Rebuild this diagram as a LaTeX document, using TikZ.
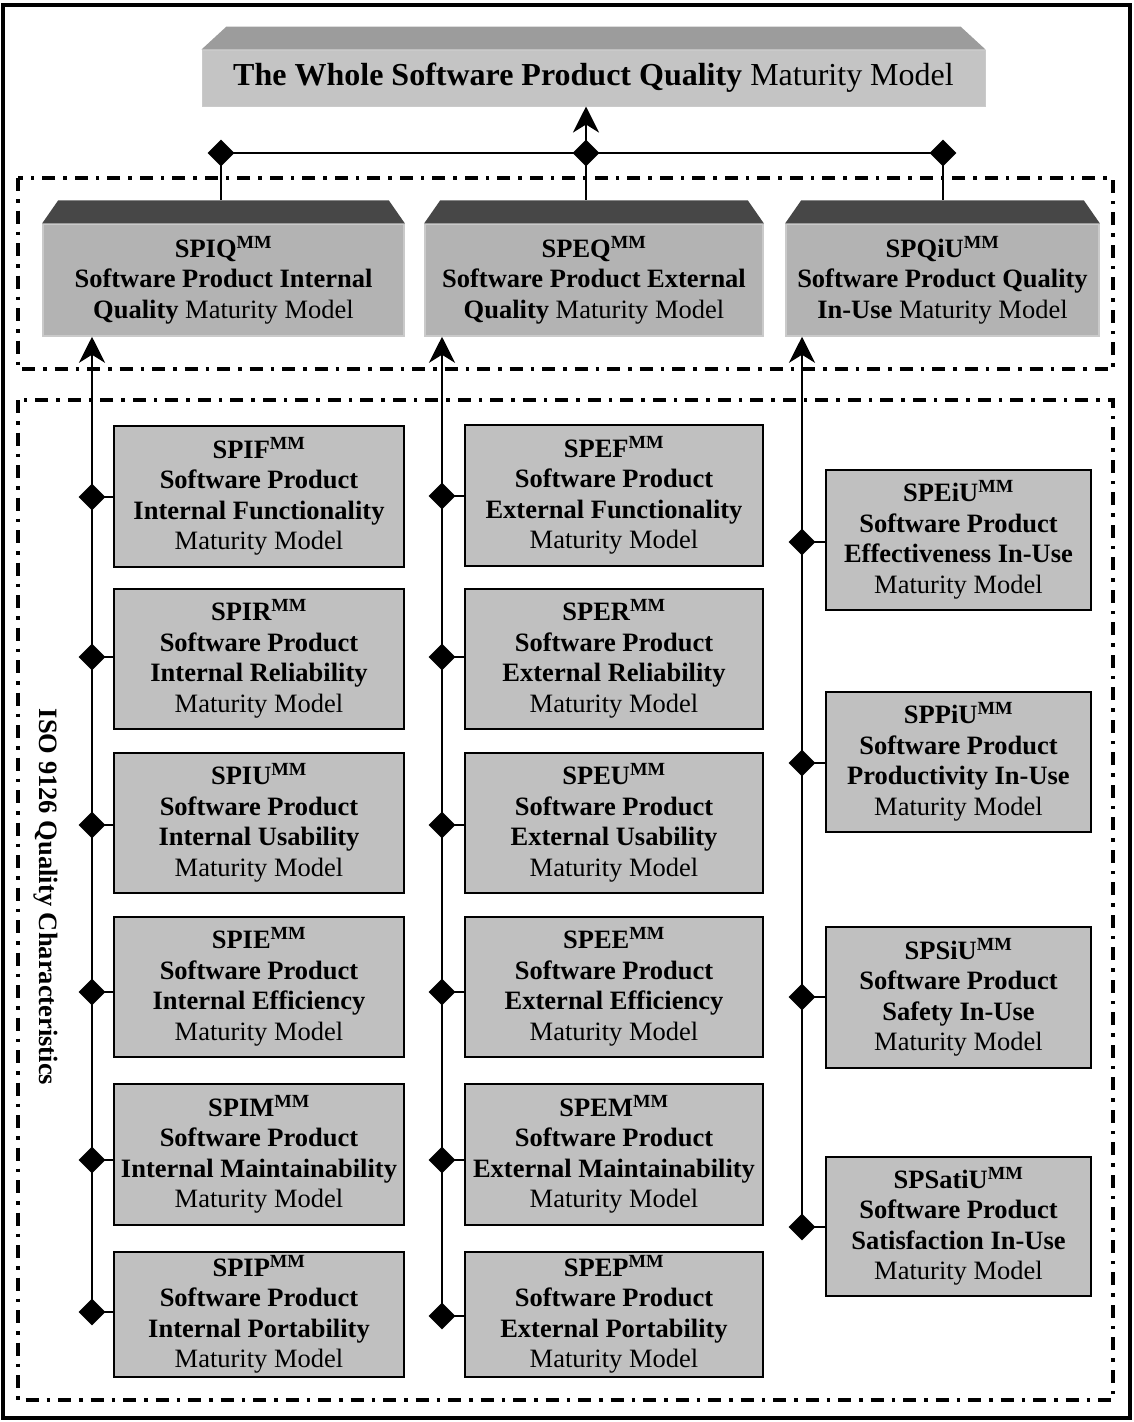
\documentclass[tikz,border=0pt]{standalone}
\usepackage{fontspec}
\setmainfont{Liberation Serif}
\usetikzlibrary{arrows.meta,shapes.geometric,calc}
\definecolor{boxgray}{HTML}{C0C0C0}
\definecolor{facegray}{HTML}{B3B3B3}
\definecolor{rimgray}{HTML}{CACACA}
\definecolor{lidgray}{HTML}{474747}
\definecolor{titleface}{HTML}{C4C4C4}
\definecolor{titlelid}{HTML}{9C9C9C}
\newcommand\mmark{\textsuperscript{MM}}
\begin{document}
\begin{tikzpicture}[x=1pt,y=-1pt,
  txt/.style={font=\fontsize{26.5}{30.5}\selectfont, align=center, inner sep=0pt},
  model/.style={txt, draw=black, line width=2.2pt, fill=boxgray},
  face/.style={txt, draw=rimgray, line width=1.5pt, fill=facegray,
    minimum height=112pt},
  dia/.style={diamond, fill=black, inner sep=0pt, minimum width=27pt, minimum height=27pt},
  link/.style={line width=2.8pt},
  arr/.style={link, -{Stealth[length=26pt,width=26pt,inset=8pt]}},
  frame/.style={line width=3.2pt, dash pattern=on 13pt off 8pt on 3.5pt off 8pt},
]
\useasboundingbox (0,0) rectangle (1133,1422);

% outer border
\draw[line width=3.2pt] (3,5) rectangle (1130,1418);

% grouping frames
\draw[frame] (18,178) rectangle (1113,369);
\draw[frame] (18,400) rectangle (1113,1400);

% top-level model
\node[txt, font=\fontsize{32}{38}\selectfont, draw=rimgray, line width=1pt, fill=titleface,
  minimum width=783pt, minimum height=56pt] (W) at (593.5,78)
  {\textbf{The Whole Software Product Quality} Maturity Model};
\fill[titlelid] (W.north west) -- ($(W.north west)+(25,-23)$) -- ($(W.north east)+(-25,-23)$) -- (W.north east) -- cycle;

% second-level models
\node[face, minimum width=361pt] (IQ) at (223.5,280)
  {\textbf{SPIQ\mmark}\\\textbf{Software Product Internal}\\\textbf{Quality} Maturity Model};
\node[face, minimum width=338pt] (EQ) at (594,280)
  {\textbf{SPEQ\mmark}\\\textbf{Software Product External}\\\textbf{Quality} Maturity Model};
\node[face, minimum width=313pt] (QiU) at (942.5,280)
  {\textbf{SPQiU\mmark}\\\textbf{Software Product Quality}\\\textbf{In-Use} Maturity Model};
\foreach \n in {IQ,EQ,QiU}{
  \fill[lidgray] (\n.north west) -- ($(\n.north west)+(16,-23)$) -- ($(\n.north east)+(-16,-23)$) -- (\n.north east) -- cycle;
  \coordinate (lid\n) at ($(\n.north)+(0,-23)$);
}

% internal characteristics
\node[model, minimum width=290pt, minimum height=141pt] (IF) at (259,496.5)
  {\textbf{SPIF\mmark}\\\textbf{Software Product}\\\textbf{Internal Functionality}\\Maturity Model};
\node[model, minimum width=290pt, minimum height=140pt] (IR) at (259,659)
  {\textbf{SPIR\mmark}\\\textbf{Software Product}\\\textbf{Internal Reliability}\\Maturity Model};
\node[model, minimum width=290pt, minimum height=140pt] (IU) at (259,823)
  {\textbf{SPIU\mmark}\\\textbf{Software Product}\\\textbf{Internal Usability}\\Maturity Model};
\node[model, minimum width=290pt, minimum height=140pt] (IE) at (259,987)
  {\textbf{SPIE\mmark}\\\textbf{Software Product}\\\textbf{Internal Efficiency}\\Maturity Model};
\node[model, minimum width=290pt, minimum height=141pt] (IM) at (259,1154.5)
  {\textbf{SPIM\mmark}\\\textbf{Software Product}\\\textbf{Internal Maintainability}\\Maturity Model};
\node[model, minimum width=290pt, minimum height=125pt] (IP) at (259,1314.5)
  {\textbf{SPIP\mmark}\\\textbf{Software Product}\\\textbf{Internal Portability}\\Maturity Model};

% external characteristics
\node[model, minimum width=298pt, minimum height=141pt] (EF) at (614,495.5)
  {\textbf{SPEF\mmark}\\\textbf{Software Product}\\\textbf{External Functionality}\\Maturity Model};
\node[model, minimum width=298pt, minimum height=140pt] (ER) at (614,659)
  {\textbf{SPER\mmark}\\\textbf{Software Product}\\\textbf{External Reliability}\\Maturity Model};
\node[model, minimum width=298pt, minimum height=140pt] (EU) at (614,823)
  {\textbf{SPEU\mmark}\\\textbf{Software Product}\\\textbf{External Usability}\\Maturity Model};
\node[model, minimum width=298pt, minimum height=140pt] (EE) at (614,987)
  {\textbf{SPEE\mmark}\\\textbf{Software Product}\\\textbf{External Efficiency}\\Maturity Model};
\node[model, minimum width=298pt, minimum height=141pt] (EM) at (614,1154.5)
  {\textbf{SPEM\mmark}\\\textbf{Software Product}\\\textbf{External Maintainability}\\Maturity Model};
\node[model, minimum width=298pt, minimum height=125pt] (EP) at (614,1314.5)
  {\textbf{SPEP\mmark}\\\textbf{Software Product}\\\textbf{External Portability}\\Maturity Model};

% in-use characteristics
\node[model, minimum width=265pt, minimum height=140pt] (EiU) at (958.5,540)
  {\textbf{SPEiU\mmark}\\\textbf{Software Product}\\\textbf{Effectiveness In-Use}\\Maturity Model};
\node[model, minimum width=265pt, minimum height=140pt] (PiU) at (958.5,762)
  {\textbf{SPPiU\mmark}\\\textbf{Software Product}\\\textbf{Productivity In-Use}\\Maturity Model};
\node[model, minimum width=265pt, minimum height=141pt] (SiU) at (958.5,997.5)
  {\textbf{SPSiU\mmark}\\\textbf{Software Product}\\\textbf{Safety In-Use}\\Maturity Model};
\node[model, minimum width=265pt, minimum height=139pt] (SatiU) at (958.5,1226.5)
  {\textbf{SPSatiU\mmark}\\\textbf{Software Product}\\\textbf{Satisfaction In-Use}\\Maturity Model};

% side label
\node[txt, font=\fontsize{26.5}{30.5}\selectfont\bfseries, rotate=-90] (iso) at (46,897)
  {ISO 9126 Quality Characteristics};

% junction diamonds
\node[dia] (jL) at (221,153) {};
\node[dia] (jM) at (586,153) {};
\node[dia] (jR) at (943,153) {};

\node[dia] (dIF) at (92,497) {};
\node[dia] (dIR) at (92,657) {};
\node[dia] (dIU) at (92,825) {};
\node[dia] (dIE) at (92,992) {};
\node[dia] (dIM) at (92,1160) {};
\node[dia] (dIP) at (92,1312) {};

\node[dia] (dEF) at (442,496) {};
\node[dia] (dER) at (442,657) {};
\node[dia] (dEU) at (442,825) {};
\node[dia] (dEE) at (442,992) {};
\node[dia] (dEM) at (442,1160) {};
\node[dia] (dEP) at (442,1316) {};

\node[dia] (dEiU) at (802,542) {};
\node[dia] (dPiU) at (802,763) {};
\node[dia] (dSiU) at (802,997) {};
\node[dia] (dSatiU) at (802,1227) {};

% connectors to the whole model
\draw[link] (jL.center) -- (jR.center);
\draw[arr] (jM.center) -- (jM |- W.south);
\draw[link] (jL.center) -- (jL |- lidIQ);
\draw[link] (jM.center) -- (jM |- lidEQ);
\draw[link] (jR.center) -- (jR |- lidQiU);

% trunks up to the second-level models
\draw[arr] (dIP.center) -- (dIP |- IQ.south);
\draw[arr] (dEP.center) -- (dEP |- EQ.south);
\draw[arr] (dSatiU.center) -- (dSatiU |- QiU.south);

% stubs from trunks to characteristic models
\foreach \n in {IF,IR,IU,IE,IM,IP,EF,ER,EU,EE,EM,EP,EiU,PiU,SiU,SatiU}{
  \draw[link] (d\n.center) -- (d\n -| \n.west);
}
\end{tikzpicture}
\end{document}
